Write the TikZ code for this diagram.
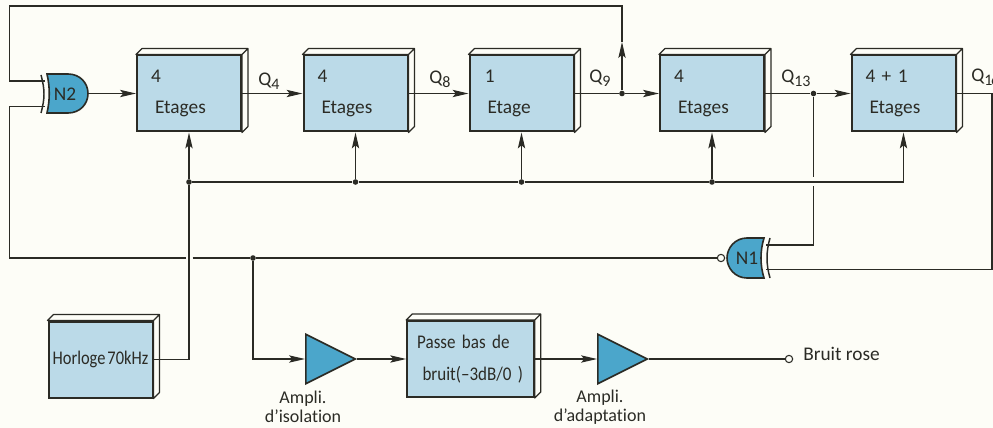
\documentclass[tikz,border=0pt]{standalone}
\usepackage{fontspec}
\setmainfont[Ligatures=NoCommon]{Carlito}
\usetikzlibrary{arrows.meta,shapes.geometric,backgrounds}
\definecolor{papier}{HTML}{FDFDF7}
\definecolor{encre}{HTML}{2B2B25}
\definecolor{bleubloc}{HTML}{BBDAE8}
\definecolor{bleuporte}{HTML}{4BA6CB}
\newcommand{\Qsub}[1]{Q\raisebox{-2.5pt}{\fontsize{12}{12}\selectfont #1}}
\tikzset{
  texte/.style={font=\fontsize{14.5}{23.5}\selectfont,text=encre,inner sep=0pt},
  bloc/.style={texte,draw=encre,line width=1.5pt,fill=bleubloc,minimum width=78pt,minimum height=57pt,text width=51pt,align=left},
  face/.style={draw=encre,line width=0.9pt,fill=papier,line join=round},
  fil/.style={draw=encre,line width=0.85pt},
  fleche/.style={fil,-{Stealth[length=12pt,width=5.5pt,inset=2.5pt]}},
  point/.style={circle,fill=encre,inner sep=0pt,minimum size=4.2pt},
  rond/.style={circle,draw=encre,fill=papier,line width=0.8pt,inner sep=0pt,minimum size=5.5pt},
  porte/.style={draw=encre,line width=1.2pt,fill=bleuporte},
  arcporte/.style={draw=encre,line width=1.1pt},
  ampli/.style={isosceles triangle,isosceles triangle apex angle=54,isosceles triangle stretches,draw=encre,line width=1.3pt,fill=bleuporte,inner sep=0pt,minimum width=37pt,minimum height=37pt,anchor=west}
}
\begin{document}
\begin{tikzpicture}[x=0.75pt,y=-0.75pt]
  \clip (0,0) rectangle (993,428);
  % compteurs
  \node[bloc] (e1) at (189,93.5) {\hspace*{-3pt}4\\Etages};
  \node[bloc] (e2) at (355.5,93.5) {\hspace*{-3pt}4\\Etages};
  \node[bloc] (e3) at (521.5,93.5) {\hspace*{-2pt}1\\Etage};
  \node[bloc] (e4) at (712,93.5) {\hspace*{-3pt}4\\Etages};
  \node[bloc] (e5) at (903.5,93.5) {\hspace*{-3pt}4 + 1\\Etages};
  \node[bloc,text width=74pt,align=center] (horloge) at (100.5,359.5) {\addfontfeature{FakeStretch=0.85}{\spaceskip=1.5pt Horloge 70kHz}};
  \node[bloc,minimum width=95pt,text width=86pt] (passe) at (470.5,359) {\addfontfeature{FakeStretch=0.88}\hspace*{3pt}Passe bas de\\\hspace*{7pt}bruit(--3dB/0 )};
  \begin{scope}[on background layer]
    \fill[papier] (0,0) rectangle (993,428);
    \foreach \b in {e1,e2,e3,e4,e5,horloge,passe}
      \draw[face] (\b.north west) -- ([shift={(6,-6)}]\b.north west) -- ([shift={(6,-6)}]\b.north east) -- ([shift={(6,-6)}]\b.south east) -- (\b.south east) -- (\b.north east) -- cycle (\b.north east) -- ([shift={(6,-6)}]\b.north east);
  \end{scope}
  % coins et points
  \node[point] (j1) at (189,182) {};
  \node[point] (j2) at (355.5,182) {};
  \node[point] (j3) at (521.5,182) {};
  \node[point] (j4) at (712,182) {};
  \node[point] (j5) at (622,93.5) {};
  \node[point] (j6) at (813.5,93.5) {};
  \node[point] (j7) at (253,258) {};
  \coordinate (n2a) at (45,81);
  \coordinate (n2b) at (45,106.5);
  \coordinate (n2s) at (88,93.5);
  \coordinate (n1a) at (766,245);
  \coordinate (n1b) at (766,269.5);
  \coordinate (haut) at (622,6);
  \coordinate (hautg) at (9.5,6);
  \coordinate (milieu) at (622,42);
  \coordinate (basg) at (9.5,258);
  \coordinate (droite) at (992,269.5);
  \coordinate (coupea) at (813.5,177);
  \coordinate (coupeb) at (813.5,186);
  \coordinate (coupec) at (192.5,258);
  \coordinate (couped) at (185.5,258);
  % portes
  \node[rond] (bulle) at (721,258) {};
  \draw[arcporte] (41,75) .. controls (45,90) and (45,98) .. (41,113);
  \draw[arcporte] (770,238) .. controls (766,252) and (766,264) .. (770,278);
  \draw[fil] (n2a) -| (hautg) -- (haut) -- (milieu);
  \draw[fleche] (j5) -- (milieu);
  \draw[fil] (n2b) -| (basg) -- (couped);
  \draw[fil] (coupec) -- (j7) -- (bulle);
  \draw[porte] (47,74) -- (68,74) .. controls (80,74) and (88,83) .. (88,93.5) .. controls (88,104) and (80,113) .. (68,113) -- (47,113) .. controls (50,100) and (50,87) .. cycle;
  \draw[porte] (764,238) -- (747,238) .. controls (735,238) and (727,248) .. (727,258) .. controls (727,268) and (735,278) .. (747,278) -- (764,278) .. controls (760,265) and (760,251) .. cycle;
  \node[texte] (N2) at (65,94) {N2};
  \node[texte] (N1) at (747,258) {N1};
  % liaisons
  \draw[fleche] (n2s) -- (e1.west);
  \draw[fleche] (e1.east) -- (e2.west);
  \draw[fleche] (e2.east) -- (e3.west);
  \draw[fil] (e3.east) -- (j5);
  \draw[fleche] (j5) -- (e4.west);
  \draw[fil] (e4.east) -- (j6);
  \draw[fleche] (j6) -- (e5.west);
  \draw[fil] (e5.east) -| (droite) -- (n1b);
  \draw[fil] (j6) -- (coupea);
  \draw[fil] (coupeb) |- (n1a);
  \draw[fil] (j1) -- (j2) -- (j3) -- (j4);
  \draw[fleche] (j4) -| (e5.south);
  \draw[fleche] (j1) -- (e1.south);
  \draw[fleche] (j2) -- (e2.south);
  \draw[fleche] (j3) -- (e3.south);
  \draw[fleche] (j4) -- (e4.south);
  \draw[fil] (horloge.east) -| (j1);
  % sortie
  \node[ampli] (a1) at (305,359) {};
  \node[ampli] (a2) at (597,359) {};
  \node[rond] (sortie) at (789,359) {};
  \draw[fleche] (j7) |- (a1.west);
  \draw[fleche] (a1.east) -- (passe.west);
  \draw[fleche] (passe.east) -- (a2.west);
  \draw[fil] (a2.east) -- (sortie);
  % textes
  \node[texte,anchor=west] (rose) at (803,354) {Bruit rose};
  \node[texte,align=center,font=\fontsize{13.5}{14.5}\selectfont] (la1) at (303,407) {Ampli.\\d'isolation};
  \node[texte,align=center,font=\fontsize{13.5}{14.5}\selectfont] (la2) at (600,407) {Ampli.\\d'adaptation};
  \node[texte,anchor=base west] (q4) at (258,86) {\Qsub{4}};
  \node[texte,anchor=base west] (q8) at (429,84) {\Qsub{8}};
  \node[texte,anchor=base west] (q9) at (589,83) {\Qsub{9}};
  \node[texte,anchor=base west] (q13) at (781,83) {\Qsub{13}};
  \node[texte,anchor=base west] (q16) at (971,82) {\Qsub{1\kern-1pt 6}};
\end{tikzpicture}
\end{document}
